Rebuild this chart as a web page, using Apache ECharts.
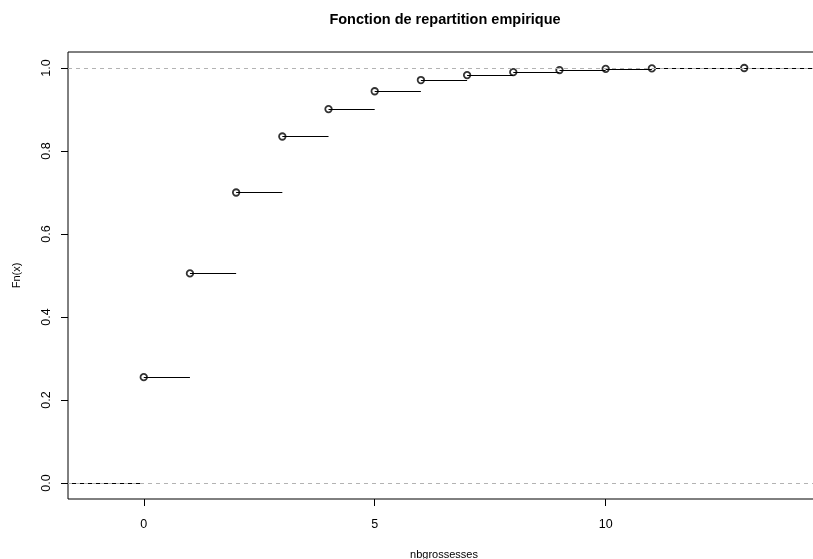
<!DOCTYPE html>
<html><head><meta charset="utf-8">
<script src="https://cdn.jsdelivr.net/npm/echarts@6/dist/echarts.min.js"></script>
<style>html,body{margin:0;padding:0;background:#fff}#c{width:813px;height:559px}</style>
</head><body><div id="c"></div>
<script>
// Data
const xValues = [0, 1, 2, 3, 4, 5, 6, 7, 8, 9, 10, 11, 13];
const fnValues = [0.255, 0.505, 0.700, 0.835, 0.901, 0.944, 0.971, 0.983, 0.990, 0.995, 0.998, 0.999, 1.000];
const xTicks = [0, 5, 10];
const yTicks = [0, 0.2, 0.4, 0.6, 0.8, 1.0];
const refLines = [0, 1];
const titleText = 'Fonction de repartition empirique';
const xName = 'nbgrossesses';
const yName = 'Fn(x)';
const xMin = -1.64, xMax = 14.64, yMin = -0.0386, yMax = 1.0386;

const FONT = '"Liberation Sans", Arial, Helvetica, sans-serif';

// horizontal step segments
const segs = [{coords: [[xMin, 0], [xValues[0], 0]]}];
for (let i = 0; i < xValues.length; i++) {
  const xEnd = i + 1 < xValues.length ? xValues[i + 1] : xMax;
  segs.push({coords: [[xValues[i], fnValues[i]], [xEnd, fnValues[i]]]});
}
const refs = refLines.map(v => ({coords: [[xMin, v], [xMax, v]]}));
const pts = xValues.map((x, i) => [x, fnValues[i]]);

const chart = echarts.init(document.getElementById('c'), null, {renderer: 'canvas'});
chart.setOption({
  animation: false,
  backgroundColor: '#fff',
  textStyle: {fontFamily: FONT},
  graphic: [{
    type: 'text', x: 445, y: 12,
    style: {text: titleText, fill: '#000', font: 'bold 14.5px ' + FONT, textAlign: 'center'}
  }],
  grid: {left: 68, top: 52, width: 752, height: 447, show: true, borderColor: '#000', borderWidth: 1,
    backgroundColor: 'transparent', containLabel: false, outerBoundsMode: 'none'},
  xAxis: {
    type: 'value', min: xMin, max: xMax,
    axisLine: {show: false, onZero: false},
    splitLine: {show: false},
    axisTick: {show: true, inside: false, length: 7, customValues: xTicks, lineStyle: {color: '#000', width: 1}},
    axisLabel: {customValues: xTicks, margin: 19, color: '#000', fontSize: 12.5, fontFamily: FONT},
    name: xName, nameLocation: 'middle', nameGap: 50,
    nameTextStyle: {color: '#000', fontSize: 11, fontFamily: FONT}
  },
  yAxis: {
    type: 'value', min: yMin, max: yMax,
    axisLine: {show: false, onZero: false},
    splitLine: {show: false},
    axisTick: {show: true, inside: false, length: 7, customValues: yTicks, lineStyle: {color: '#000', width: 1}},
    axisLabel: {customValues: yTicks, rotate: 90, margin: 15, color: '#000', fontSize: 12.5, fontFamily: FONT,
      formatter: v => v.toFixed(1)},
    name: yName, nameLocation: 'middle', nameGap: 46,
    nameTextStyle: {color: '#000', fontSize: 11, fontFamily: FONT}
  },
  series: [
    {type: 'lines', coordinateSystem: 'cartesian2d', data: segs, z: 2,
      lineStyle: {color: '#000', width: 1, opacity: 1}, silent: true},
    {type: 'scatter', data: pts, symbol: 'circle', symbolSize: 6.5, z: 3,
      itemStyle: {color: 'rgba(0,0,0,0)', borderColor: '#000', borderWidth: 1.8}, silent: true},
    {type: 'lines', coordinateSystem: 'cartesian2d', data: refs, z: 4,
      lineStyle: {color: '#b3b3b3', width: 1, type: [4, 4], opacity: 1}, silent: true}
  ]
});
</script></body></html>
